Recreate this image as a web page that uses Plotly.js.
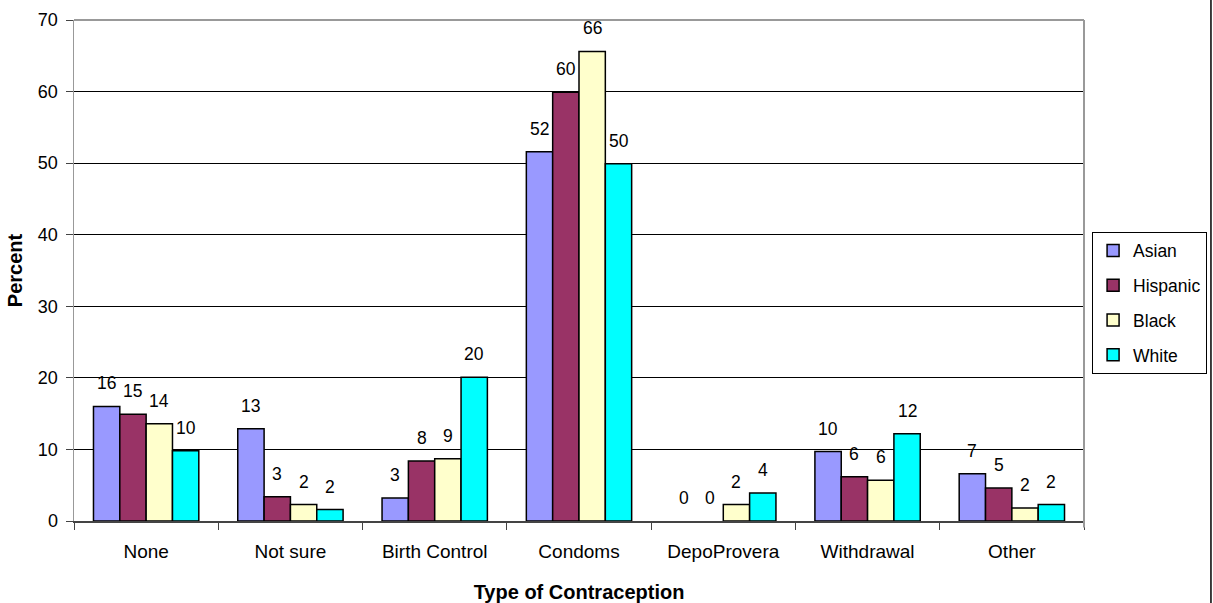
<!DOCTYPE html>
<html>
<head>
<meta charset="utf-8">
<script src="https://cdn.plot.ly/plotly-3.0.1.min.js"></script>
<style>
  html, body { margin: 0; padding: 0; background: #fff; }
  #chart { width: 1213px; height: 603px; }
</style>
</head>
<body>
<div id="chart"></div>
<script>
// Contraception use by ethnic group (percent)
const categories = ['None', 'Not sure', 'Birth Control', 'Condoms', 'DepoProvera', 'Withdrawal', 'Other'];
const groups = ['Asian', 'Hispanic', 'Black', 'White'];

const asian    = [16.0, 12.9, 3.2, 51.6, 0.0, 9.7, 6.6];
const hispanic = [14.9, 3.4, 8.4, 59.9, 0.0, 6.2, 4.6];
const black    = [13.6, 2.3, 8.7, 65.6, 2.3, 5.7, 1.8];
const white    = [9.8, 1.6, 20.1, 49.9, 3.9, 12.2, 2.3];

const seriesValues = [asian, hispanic, black, white];
const colors = ['#9999FF', '#993366', '#FFFFCC', '#00FFFF'];

const FONT = 'Liberation Sans, Arial, sans-serif';
const BARGAP = 0.27;

const traces = groups.map((name, i) => ({
  type: 'bar',
  name: name,
  x: categories,
  y: seriesValues[i],
  legendgroup: name,
  marker: {
    color: colors[i],
    // no outline on empty bars
    line: { color: '#000000', width: seriesValues[i].map(v => (v > 0 ? 1.5 : 0)) }
  },
  hoverinfo: 'x+y+name'
}));

// value labels above each bar, centred on the bar within its group
const barW = (1 - BARGAP) / groups.length;
const annotations = [];
seriesValues.forEach((vals, i) => {
  const off = -((1 - BARGAP) / 2) + barW * (i + 0.5);
  vals.forEach((v, j) => {
    annotations.push({
      x: j + off, y: v, xref: 'x', yref: 'y',
      text: v.toFixed(0),
      showarrow: false,
      yanchor: 'middle', yshift: 23,
      font: { family: FONT, size: 17.5, color: '#000' }
    });
  });
});

const layout = {
  width: 1213, height: 603,
  margin: { l: 74, r: 129, t: 20, b: 81.5, autoexpand: false },
  paper_bgcolor: '#ffffff',
  plot_bgcolor: '#ffffff',
  barmode: 'group',
  bargap: BARGAP,
  bargroupgap: 0,
  font: { family: FONT, size: 17, color: '#000' },
  showlegend: true,
  legend: {
    x: 1.008, xanchor: 'left',
    y: 0.436, yanchor: 'middle',
    bordercolor: '#000', borderwidth: 1,
    bgcolor: '#fff',
    traceorder: 'grouped',
    tracegroupgap: 9,
    itemwidth: 30,
    font: { family: FONT, size: 17.5, color: '#000' }
  },
  xaxis: {
    type: 'category',
    tickson: 'boundaries',
    ticks: 'outside', ticklen: 7, tickcolor: '#444', tickwidth: 1,
    showline: true, linecolor: '#444', linewidth: 1.5,
    showgrid: false,
    ticklabelstandoff: 13,
    tickfont: { family: FONT, size: 19, color: '#000' },
    title: { text: '<b>Type of Contraception</b>', standoff: 26,
             font: { family: FONT, size: 20, color: '#000' } },
    automargin: false,
    fixedrange: true
  },
  yaxis: {
    range: [0, 70],
    tickvals: [0, 10, 20, 30, 40, 50, 60, 70],
    ticks: 'outside', ticklen: 7, tickcolor: '#444', tickwidth: 1,
    showline: true, linecolor: '#999', linewidth: 1.5,
    showgrid: true, gridcolor: '#000', gridwidth: 1,
    zeroline: false,
    ticklabelstandoff: 4,
    tickfont: { family: FONT, size: 18, color: '#000' },
    title: { text: '<b>Percent</b>', standoff: 10,
             font: { family: FONT, size: 20, color: '#000' } },
    automargin: false,
    fixedrange: true
  },
  annotations: annotations,
  shapes: [
    // plot area frame: top and right edges
    { type: 'line', xref: 'paper', yref: 'paper', x0: 0, x1: 1, y0: 1, y1: 1,
      line: { color: '#999', width: 2 }, layer: 'above' },
    { type: 'line', xref: 'paper', yref: 'paper', x0: 1, x1: 1, y0: -0.013, y1: 1,
      line: { color: '#999', width: 2 }, layer: 'above' },
    // chart area right border
    { type: 'line', xref: 'paper', yref: 'paper', x0: 1.1257, x1: 1.1257, y0: -0.2, y1: 1.1,
      line: { color: '#000', width: 1.5 }, layer: 'above' }
  ]
};

Plotly.newPlot('chart', traces, layout, { staticPlot: true, displayModeBar: false });
</script>
</body>
</html>
